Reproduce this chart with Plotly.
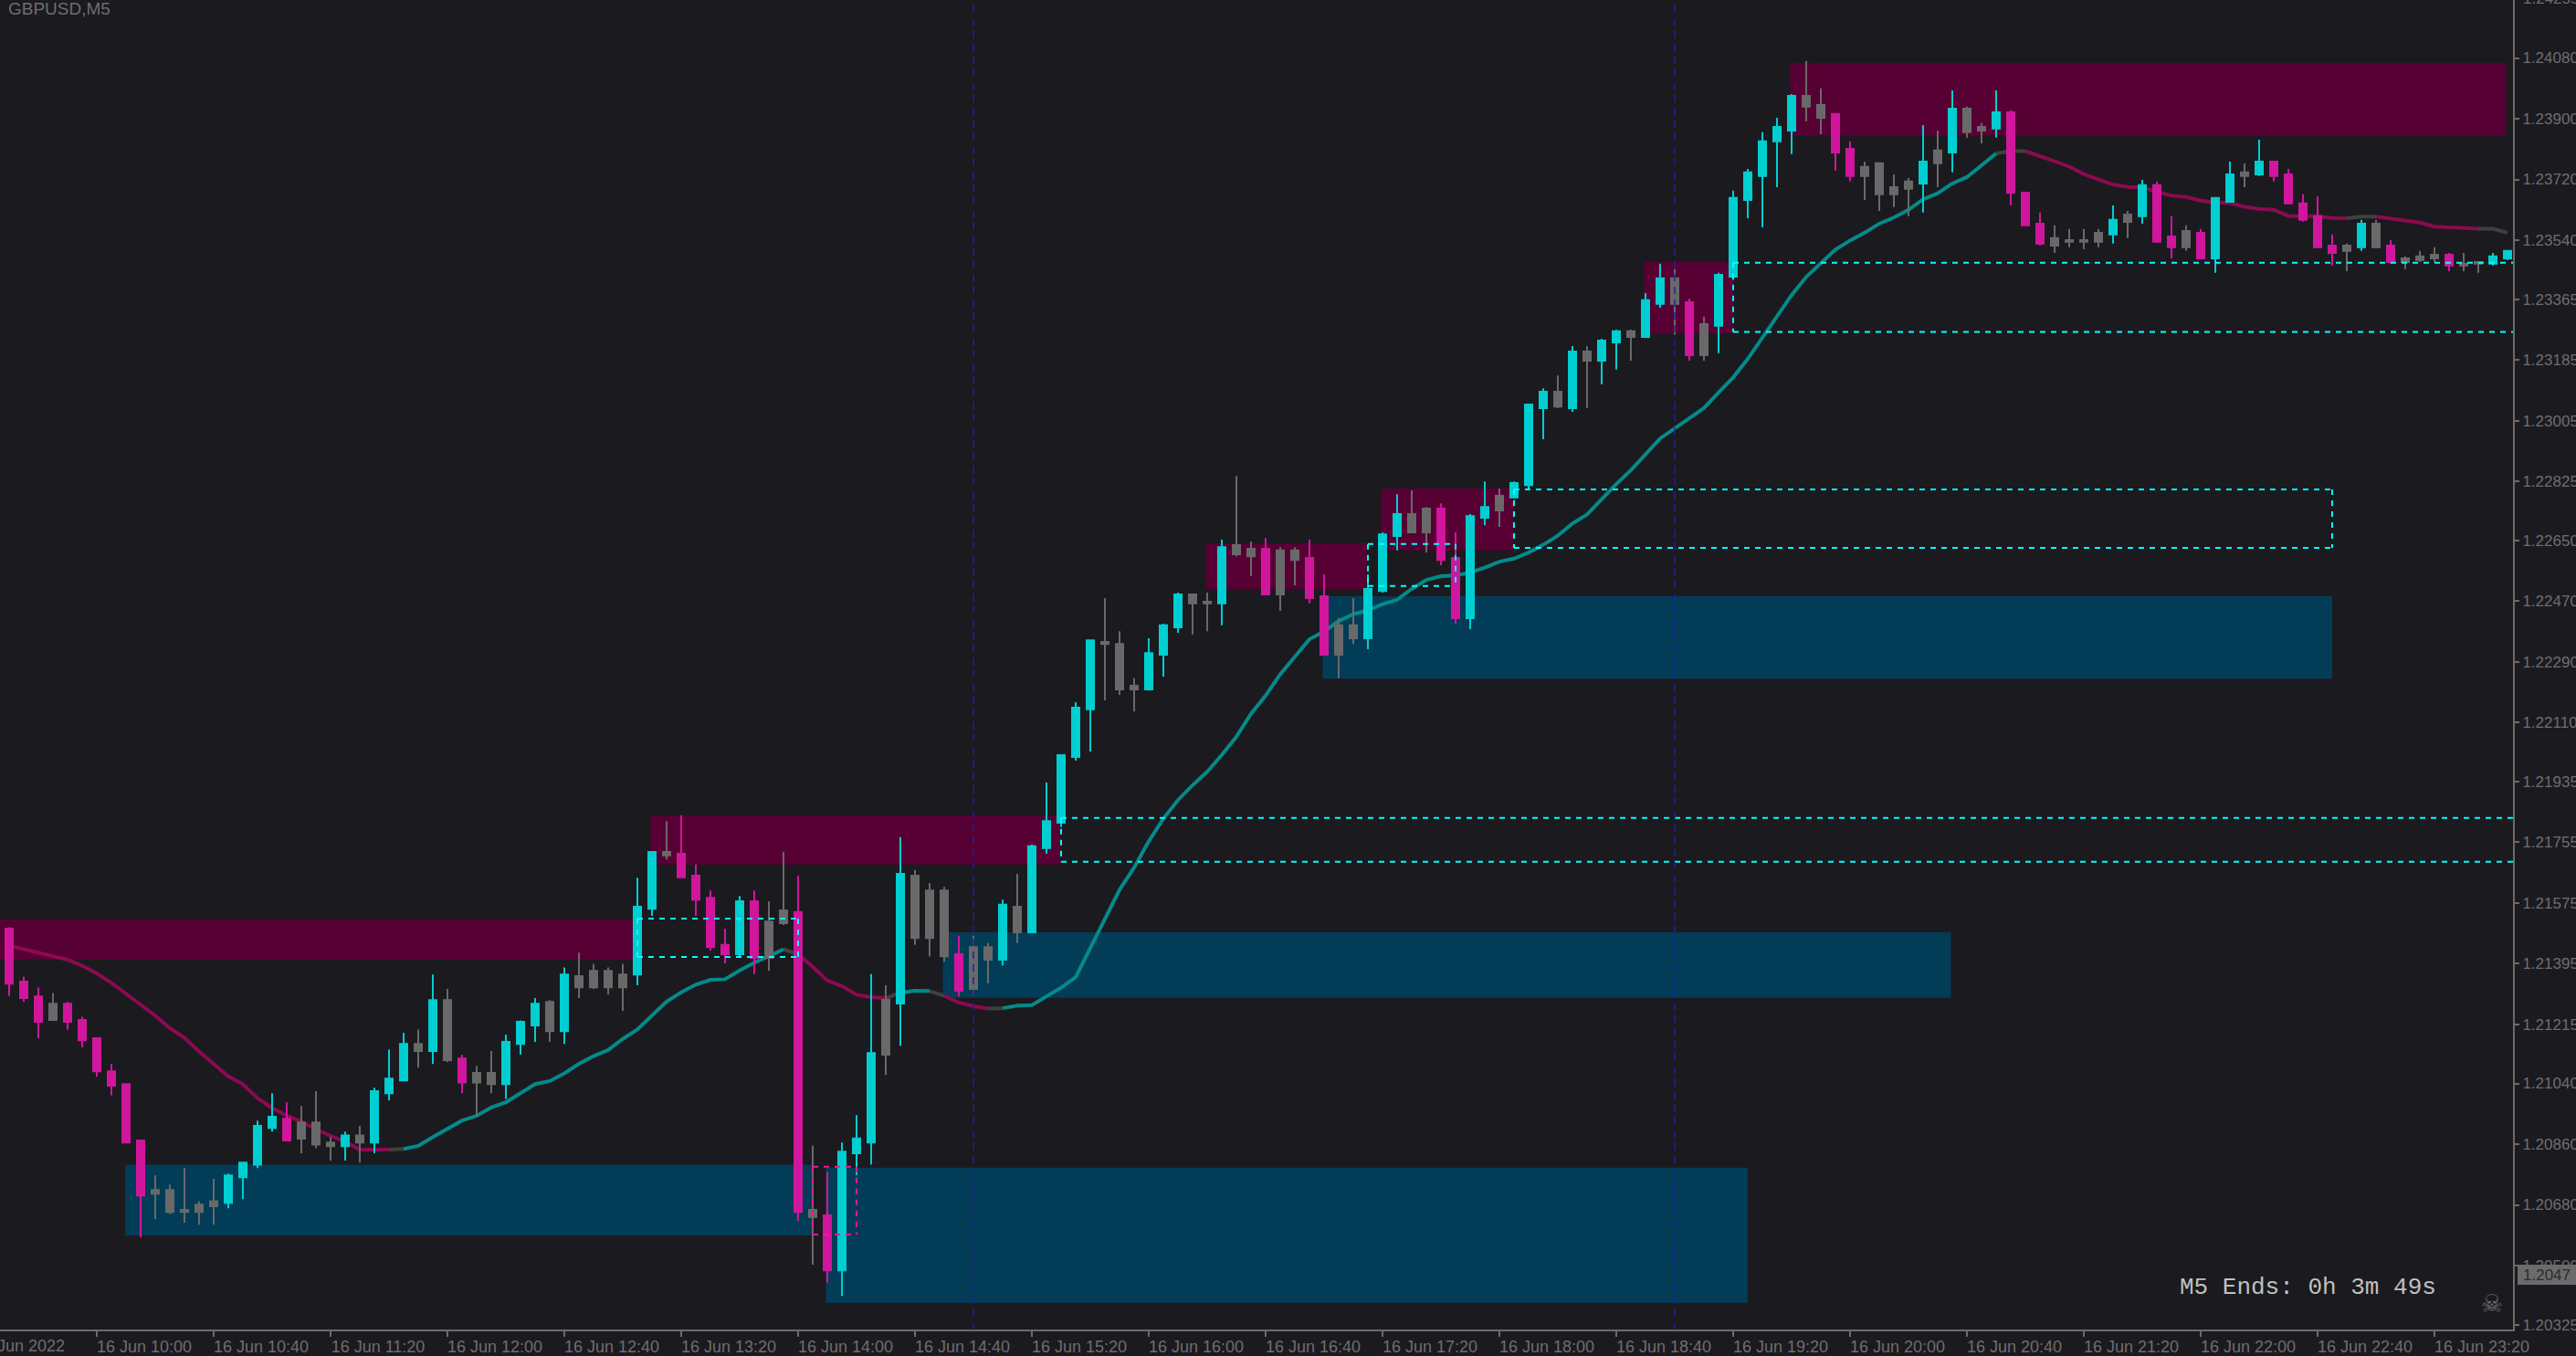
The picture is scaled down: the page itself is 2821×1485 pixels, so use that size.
import plotly.graph_objects as go

# All prices are in points above 1.00000 (1 point = 0.00001)
BASE = 1.0
kinds = ("dddndddddd" "nnnnnuuuud" "nnnunuuunu" "ndnnuuunun" "nnnuundddd"
         "udnndnduuu" "nunnndnnun" "uuuuunnnuu" "unnunndnnd" "dnnuuunndd"
         "uunuuununu" "unuundnuuu" "uuunnddnnn" "nununnuddd" "nnnnunuddn"
         "duunuddddd" "nundnnndnn" "uu")

high_pts = [21503,21357,21324,21308,21282,21238,21174,21098,21038,20871,
 20767,20740,20789,20691,20757,20773,20805,20930,21011,20984,
 20973,21017,20881,20897,20914,21027,21141,21190,21200,21363,
 21320,21125,21092,21136,21185,21227,21293,21287,21384,21428,
 21395,21384,21395,21650,21726,21818,21835,21689,21612,21499,
 21596,21612,21580,21726,21656,20855,20778,20865,20946,21364,
 21331,21770,21673,21634,21623,21478,21478,21456,21585,21661,
 21748,21932,22013,22170,22354,22479,22381,22241,22360,22403,
 22495,22490,22495,22652,22841,22647,22657,22630,22630,22652,
 22549,22419,22479,22549,22674,22787,22798,22749,22760,22674,
 22728,22825,22804,22825,23053,23101,23139,23226,23226,23248,
 23275,23275,23383,23470,23454,23367,23313,23443,23687,23751,
 23860,23903,23973,24071,23990,23914,23833,23773,23768,23735,
 23724,23881,23865,23984,23936,23887,23984,23925,23681,23622,
 23584,23573,23573,23573,23643,23627,23719,23714,23611,23584,
 23573,23665,23773,23768,23838,23773,23751,23676,23670,23557,
 23530,23600,23600,23540,23492,23508,23519,23502,23502,23475,
 23502,23508]

top_pts = [21499,21342,21298,21276,21276,21228,21174,21076,21038,20871,
 20724,20724,20665,20681,20691,20767,20805,20914,20941,20935,
 20924,20924,20865,20886,20886,21017,21054,21157,21157,21287,
 21287,21114,21071,21071,21163,21223,21276,21282,21363,21358,
 21374,21374,21363,21564,21726,21726,21721,21656,21590,21451,
 21580,21580,21520,21553,21548,20665,20649,20838,20877,21130,
 21288,21661,21656,21612,21612,21423,21444,21444,21570,21564,
 21743,21818,22013,22154,22354,22349,22343,22219,22316,22398,
 22490,22490,22468,22630,22636,22625,22625,22620,22620,22598,
 22484,22398,22398,22506,22668,22728,22728,22744,22744,22598,
 22722,22749,22782,22820,23053,23091,23091,23210,23210,23242,
 23270,23270,23362,23427,23427,23356,23291,23437,23665,23741,
 23833,23876,23968,23968,23941,23914,23811,23757,23768,23697,
 23714,23773,23806,23930,23930,23876,23919,23919,23681,23589,
 23546,23540,23540,23562,23600,23616,23703,23703,23551,23567,
 23562,23665,23735,23741,23773,23773,23735,23649,23611,23524,
 23524,23589,23589,23524,23486,23492,23497,23497,23470,23475,
 23492,23508]

bottom_pts = [21336,21293,21223,21228,21223,21168,21076,21033,20865,20708,
 20713,20659,20659,20659,20676,20686,20762,20799,20908,20871,
 20876,20859,20854,20854,20865,20865,21011,21049,21136,21136,
 21109,21043,21043,21038,21038,21157,21212,21195,21195,21325,
 21325,21325,21325,21363,21558,21716,21651,21585,21444,21423,
 21423,21412,21412,21515,20659,20644,20486,20486,20833,20865,
 21125,21277,21471,21471,21417,21315,21320,21407,21407,21488,
 21488,21738,21813,22008,22149,22343,22208,22208,22208,22311,
 22392,22463,22463,22463,22609,22603,22490,22490,22592,22479,
 22311,22311,22360,22360,22500,22663,22674,22674,22592,22419,
 22419,22717,22739,22777,22814,23042,23047,23042,23183,23183,
 23237,23253,23253,23351,23351,23199,23199,23286,23432,23659,
 23730,23833,23865,23936,23903,23800,23730,23730,23676,23676,
 23692,23708,23768,23800,23860,23865,23871,23681,23584,23530,
 23524,23535,23535,23535,23557,23594,23611,23535,23519,23519,
 23486,23486,23654,23730,23735,23730,23649,23600,23519,23502,
 23508,23519,23519,23475,23475,23481,23486,23465,23465,23470,
 23470,23486]

low_pts = [21299,21282,21174,21228,21200,21147,21060,21005,20865,20583,
 20638,20653,20627,20621,20621,20670,20697,20789,20897,20871,
 20833,20848,20811,20811,20805,20833,20990,21049,21087,21098,
 21103,21011,20941,21011,20994,21125,21163,21163,21157,21293,
 21320,21304,21255,21331,21537,21704,21651,21537,21434,21396,
 21412,21364,21374,21510,20632,20503,20449,20410,20768,20800,
 21065,21152,21451,21417,21401,21298,21298,21337,21390,21456,
 21488,21721,21800,21997,22024,22176,22192,22143,22208,22246,
 22376,22371,22381,22398,22603,22544,22490,22441,22517,22463,
 22311,22241,22343,22327,22495,22620,22674,22614,22576,22403,
 22387,22695,22690,22777,22799,22950,23042,23031,23042,23112,
 23156,23183,23253,23340,23260,23183,23183,23205,23422,23605,
 23578,23697,23795,23892,23854,23746,23714,23659,23627,23638,
 23611,23622,23697,23741,23844,23827,23844,23643,23584,23524,
 23502,23519,23513,23519,23530,23546,23589,23535,23486,23508,
 23486,23443,23654,23697,23730,23714,23649,23595,23519,23465,
 23448,23508,23519,23470,23454,23475,23475,23448,23448,23443,
 23465,23481]

ema_pts = [21449,21438,21426,21417,21407,21389,21366,21338,21306,21273,
 21241,21204,21175,21135,21098,21061,21038,20996,20967,20945,
 20927,20904,20885,20867,20844,20844,20844,20846,20855,20881,
 20904,20930,20944,20969,20984,21010,21038,21047,21070,21098,
 21121,21139,21172,21200,21243,21283,21310,21333,21347,21349,
 21375,21398,21417,21438,21423,21386,21345,21329,21303,21296,
 21293,21309,21315,21314,21300,21280,21269,21262,21263,21271,
 21272,21298,21324,21355,21443,21526,21614,21680,21758,21825,
 21880,21924,21964,22014,22068,22136,22190,22253,22307,22357,
 22380,22411,22431,22443,22461,22474,22506,22533,22544,22546,
 22555,22569,22587,22596,22614,22637,22664,22700,22727,22772,
 22817,22858,22907,22952,22982,23012,23042,23088,23133,23188,
 23251,23314,23377,23431,23472,23512,23539,23562,23589,23607,
 23630,23661,23679,23708,23727,23761,23797,23804,23804,23790,
 23774,23758,23736,23720,23705,23698,23696,23684,23672,23668,
 23657,23652,23650,23639,23633,23630,23612,23611,23611,23606,
 23605,23610,23610,23603,23598,23592,23580,23578,23577,23574,
 23574,23562]

# EMA slope state as (first candle, last candle)
ema_falling = [(0,26),(54,60),(64,67),(138,160),(162,169)]
ema_rising = [(27,53),(61,63),(68,136)]
ema_flat = [(26,27),(53,54),(60,61),(63,64),(67,68),(136,138),(160,162),(169,171)]

# Supply / demand zones: candle position start, end, price top, bottom (points)
supply_zones = [(-0.63,42.7,21526,21407),(43.9,71.95,21835,21689),(81.9,92.9,22641,22506),
                (93.9,103,22804,22620),(111.9,118,23475,23264),(121.9,170.9,24065,23849)]
demand_zones = [(7.94,55,20799,20589),(55.9,119,20790,20390),(63.9,132.9,21488,21294),(89.9,159,22484,22240)]

# Dashed boxes: start, end, top, bottom, sides ("l", "r" drawn)
X_END = 171.375
cyan_boxes = [(43,54,21529,21415,"lr"),(72,X_END,21827,21697,"l"),(93,99,22639,22515,"lr"),
              (103,159,22801,22628,"lr"),(118,X_END,23473,23268,"l")]
pink_boxes = [(55,58,20793,20592,"lr")]
separators = [66,114]

y_tick_labels = ["1.24080","1.23900","1.23720","1.23540","1.23365","1.23185","1.23005","1.22825",
                 "1.22650","1.22470","1.22290","1.22110","1.21935","1.21755","1.21575","1.21395",
                 "1.21215","1.21040","1.20860","1.20680","1.20500","1.20325"]
x_tick_times = ["10:00","10:40","11:20","12:00","12:40","13:20","14:00","14:40","15:20","16:00","16:40",
                "17:20","18:00","18:40","19:20","20:00","20:40","21:20","22:00","22:40","23:20"]
x_tick_index = [6,14,22,30,38,46,54,62,70,78,86,94,102,110,118,126,134,142,150,158,166]

BG = "#1b1a1f"; AXIS = "#6b6b6b"; TXT = "#6e6e6e"
CY = "#00ced1"; MG = "#d0169c"; GR = "#696969"
P = lambda v: BASE + v / 1e5

fig = go.Figure()

def ema_trace(ranges, color):
    xs, ys = [], []
    for a, b in ranges:
        xs += list(range(a, b + 1)) + [None]
        ys += [P(v) for v in ema_pts[a:b + 1]] + [None]
    fig.add_trace(go.Scatter(x=xs, y=ys, mode="lines", line=dict(color=color, width=4),
                             hoverinfo="skip", connectgaps=False))

ema_trace(ema_flat, "#404040")
ema_trace(ema_falling, "#8b0a50")
ema_trace(ema_rising, "#048a8a")

def candles(kind, color):
    idx = [i for i, k in enumerate(kinds) if k == kind]
    up = kind == "u"
    fig.add_trace(go.Candlestick(
        x=idx,
        open=[P((bottom_pts if up else top_pts)[i]) for i in idx],
        close=[P((top_pts if up else bottom_pts)[i]) for i in idx],
        high=[P(high_pts[i]) for i in idx],
        low=[P(low_pts[i]) for i in idx],
        whiskerwidth=0,
        increasing=dict(line=dict(color=color, width=2), fillcolor=color),
        decreasing=dict(line=dict(color=color, width=2), fillcolor=color),
        xaxis="x2", yaxis="y2"))

candles("n", GR); candles("d", MG); candles("u", CY)

shapes = []
for zones, col in ((supply_zones, "#560033"), (demand_zones, "#033c57")):
    for x0, x1, t, b in zones:
        shapes.append(dict(type="rect", xref="x", yref="y", x0=x0, x1=x1, y0=P(b), y1=P(t),
                           fillcolor=col, line=dict(width=0), layer="below"))
for boxes, col in ((cyan_boxes, "#00ffff"), (pink_boxes, "#ff1493")):
    for x0, x1, t, b, sides in boxes:
        segs = [(x0, t, x1, t), (x0, b, x1, b)]
        if "l" in sides: segs.append((x0, t, x0, b))
        if "r" in sides: segs.append((x1, t, x1, b))
        for a, c, d, e in segs:
            shapes.append(dict(type="line", xref="x", yref="y", x0=a, x1=d, y0=P(c), y1=P(e),
                               line=dict(color=col, width=2, dash="6px,6px"), layer="above"))
for s in separators:
    shapes.append(dict(type="line", xref="x", yref="paper", x0=s, x1=s, y0=0, y1=1,
                       line=dict(color="#20209a", width=1.5, dash="8px,6px"), layer="above"))

PW, PH = 2752, 1456
px = lambda v: v / PW
py = lambda v: 1 - v / PH
shapes.append(dict(type="rect", xref="paper", yref="paper", x0=px(2757), x1=px(2821), y0=py(1407), y1=py(1385),
                   fillcolor="#6b6b6b", line=dict(width=0), layer="above"))

def note(x, y, text, size, color, family="Liberation Sans", xanchor="left"):
    return dict(xref="paper", yref="paper", x=px(x), y=py(y), text=text, showarrow=False, xanchor=xanchor,
                yanchor="middle", font=dict(family=family, size=size, color=color))

annotations = [
    note(7, 10, "GBPUSD,M5", 19, TXT),
    note(73, 1474, "16 Jun 2022", 18, TXT, xanchor="right"),
    note(2385, 1410, "M5 Ends: 0h 3m 49s", 26, "#c0c0c0", "Liberation Mono"),
    note(2761, 1396, "1.2047", 17, "#2b2b2b"),
    note(2729, 1427, "\u2620", 27, TXT, "DejaVu Sans", "center"),
    note(2761, -2, "1.24255", 17, TXT),
]

y_range = [1.203105, 1.24252]
x_range = [-0.625, 171.375]
fig.update_layout(
    width=2821, height=1485, paper_bgcolor=BG, plot_bgcolor=BG, showlegend=False,
    margin=dict(l=0, r=69, t=0, b=29, pad=0, autoexpand=False),
    boxmode="overlay", boxgap=0.5, boxgroupgap=0,
    shapes=shapes, annotations=annotations, hovermode=False,
    xaxis=dict(range=x_range, showgrid=False, zeroline=False, showline=True, linecolor=AXIS, linewidth=2,
               ticks="outside", ticklen=6, tickwidth=2, tickcolor=AXIS, tickvals=x_tick_index,
               ticktext=["16 Jun " + t for t in x_tick_times], ticklabelshift=52, ticklabelstandoff=-5, tickangle=0,
               tickfont=dict(family="Liberation Sans", size=18, color=TXT)),
    yaxis=dict(range=y_range, side="right", showgrid=False, zeroline=False, showline=True, linecolor=AXIS,
               linewidth=2, ticks="outside", ticklen=5, tickwidth=2, tickcolor=AXIS,
               tickvals=[float(v) for v in y_tick_labels], ticktext=y_tick_labels,
               tickfont=dict(family="Liberation Sans", size=17, color=TXT)),
    xaxis2=dict(overlaying="x", range=x_range, showgrid=False, zeroline=False, showticklabels=False,
                ticks="", rangeslider=dict(visible=False)),
    yaxis2=dict(overlaying="y", range=y_range, side="right", showgrid=False, zeroline=False,
                showticklabels=False, ticks=""),
)

fig.write_html("out.html", config=dict(displayModeBar=False),
               post_script="document.body.style.margin='0';document.body.style.overflow='hidden';")
